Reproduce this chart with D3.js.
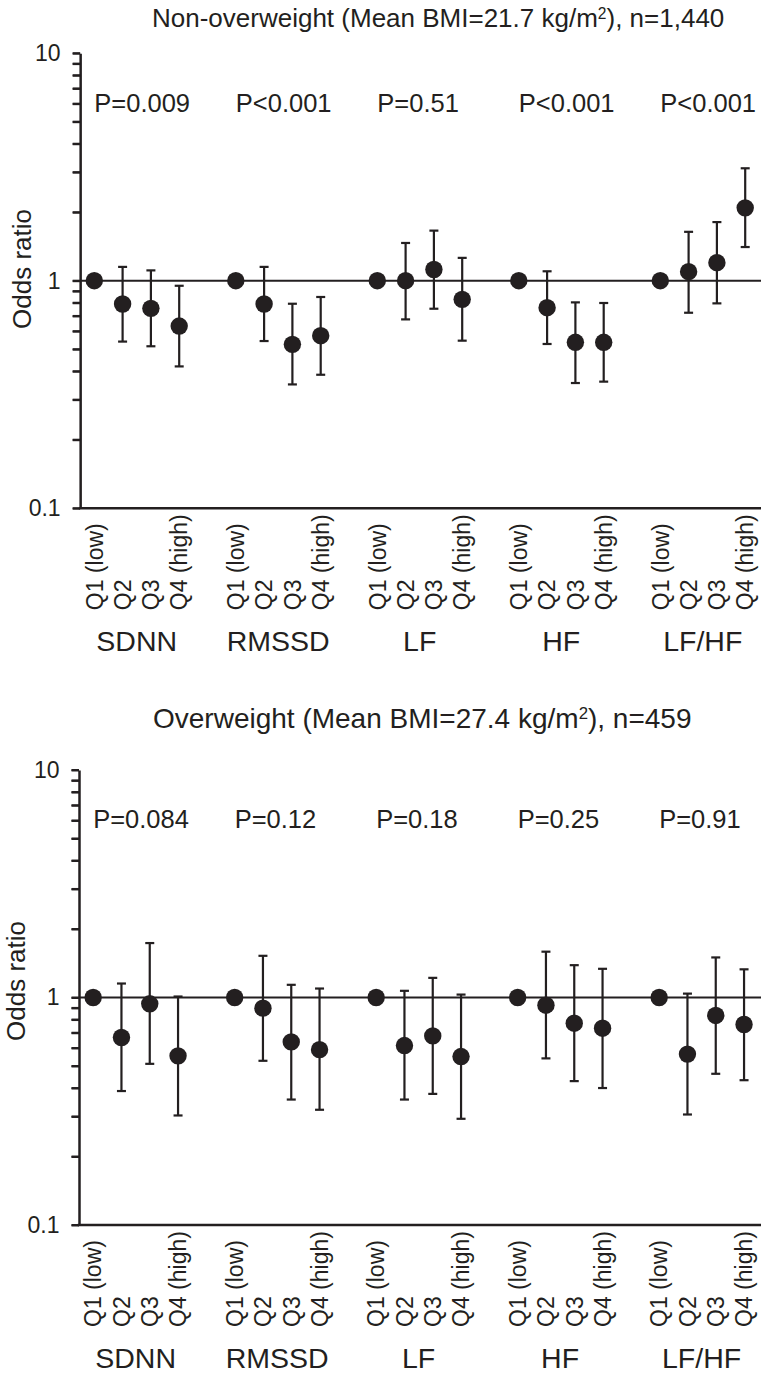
<!DOCTYPE html>
<html>
<head>
<meta charset="utf-8">
<script src="https://cdn.jsdelivr.net/npm/d3@7"></script>
<style>
  html, body { margin: 0; padding: 0; background: #fff; }
  svg { display: block; }
  text { font-family: "Liberation Sans", Arial, Helvetica, sans-serif; fill: #231f20; }
</style>
</head>
<body>
<svg id="chart" width="761" height="1373"></svg>
<script>
// ---------- data ----------
const groups = ["SDNN", "RMSSD", "LF", "HF", "LF/HF"];
const quartiles = ["Q1 (low)", "Q2", "Q3", "Q4 (high)"];
const yTickValues = [0.1, 1, 10];

const topTitle = "Non-overweight (Mean BMI=21.7 kg/m";
const topTitleEnd = "), n=1,440";
const topP = ["P=0.009", "P<0.001", "P=0.51", "P<0.001", "P<0.001"];
// per group: Q1..Q4
const topOR    = [[1, 0.79, 0.756, 0.632], [1, 0.79, 0.525, 0.573], [1, 1.0, 1.12, 0.828], [1, 0.761, 0.536, 0.536], [1, 1.096, 1.2, 2.09]];
const topLower = [[1, 0.54, 0.515, 0.42],  [1, 0.543, 0.35, 0.386], [1, 0.676, 0.753, 0.545], [1, 0.527, 0.355, 0.36], [1, 0.723, 0.795, 1.406]];
const topUpper = [[1, 1.15, 1.11, 0.95],   [1, 1.15, 0.792, 0.848], [1, 1.465, 1.66, 1.26], [1, 1.10, 0.803, 0.798], [1, 1.64, 1.81, 3.12]];

const botTitle = "Overweight (Mean BMI=27.4 kg/m";
const botTitleEnd = "), n=459";
const botP = ["P=0.084", "P=0.12", "P=0.18", "P=0.25", "P=0.91"];
const botOR    = [[1, 0.667, 0.938, 0.554], [1, 0.898, 0.638, 0.59], [1, 0.615, 0.678, 0.55], [1, 0.925, 0.771, 0.733], [1, 0.564, 0.834, 0.761]];
const botLower = [[1, 0.388, 0.511, 0.303], [1, 0.527, 0.356, 0.321], [1, 0.356, 0.377, 0.293], [1, 0.54, 0.429, 0.40], [1, 0.306, 0.462, 0.433]];
const botUpper = [[1, 1.152, 1.735, 1.01], [1, 1.525, 1.137, 1.095], [1, 1.07, 1.22, 1.03], [1, 1.59, 1.387, 1.337], [1, 1.04, 1.50, 1.33]];

// ---------- drawing ----------
const svg = d3.select("#chart");
const ink = "#231f20";
const FONT = "'Liberation Sans', Arial, Helvetica, sans-serif";

function panel(cfg) {
  const g = svg.append("g");
  const step = 28.3;
  const x = d3.scaleLinear().domain([-0.5, 24.5]).range([cfg.left, cfg.left + 25 * step]);
  const y = d3.scaleLog().domain([0.1, 10]).range([cfg.bottom, cfg.top]);
  const right = 761;

  // title
  const t = g.append("text")
    .attr("x", cfg.titleX).attr("y", cfg.titleY)
    .attr("text-anchor", "start")
    .style("font-size", cfg.titleSize + "px");
  t.append("tspan").text(cfg.title);
  t.append("tspan").attr("baseline-shift", "super").style("font-size", (cfg.titleSize * 0.6) + "px").text("2");
  t.append("tspan").text(cfg.titleEnd);

  // y axis with minor ticks
  const ticks = [];
  for (let dec of [0.1, 1]) for (let k = 1; k <= 9; k++) ticks.push(+(dec * k).toFixed(2));
  ticks.push(10);
  const axis = d3.axisLeft(y)
    .tickValues(ticks)
    .tickSize(7.5)
    .tickSizeOuter(0)
    .tickPadding(12)
    .tickFormat(d => yTickValues.includes(d) ? String(d) : "");
  const ag = g.append("g").attr("transform", `translate(${cfg.left},0)`).call(axis);
  ag.select(".domain").attr("stroke", ink).attr("stroke-width", 2.5);
  ag.selectAll(".tick line").attr("stroke", ink).attr("stroke-width", 2);
  ag.selectAll(".tick text").style("font-size", "23px").attr("fill", ink)
    .style("font-family", FONT);

  // explicit minor tick marks (same scale), to guarantee visibility
  g.append("g").selectAll("line").data(ticks).join("line")
    .attr("x1", cfg.left - 7.5).attr("x2", cfg.left)
    .attr("y1", d => y(d)).attr("y2", d => y(d))
    .attr("stroke", ink).attr("stroke-width", 2);

  // bottom axis line and reference line at OR=1
  g.append("line").attr("x1", cfg.left - 1.25).attr("x2", right)
    .attr("y1", y(0.1)).attr("y2", y(0.1)).attr("stroke", ink).attr("stroke-width", 2.5);
  g.append("line").attr("x1", cfg.left).attr("x2", right)
    .attr("y1", y(1)).attr("y2", y(1)).attr("stroke", ink).attr("stroke-width", 2);

  // y label
  g.append("text")
    .attr("transform", `translate(${cfg.ylabX},${cfg.ylabY}) rotate(-90)`)
    .attr("text-anchor", "middle")
    .style("font-size", "26px")
    .text("Odds ratio");

  // data points
  const pts = [];
  groups.forEach((grp, gi) => {
    quartiles.forEach((q, qi) => {
      pts.push({ slot: gi * 5 + qi, or: cfg.or[gi][qi], lo: cfg.lo[gi][qi], hi: cfg.hi[gi][qi], q, qi });
    });
  });

  const bars = pts.filter(d => d.qi > 0);
  const eb = g.append("g").attr("stroke", ink).attr("stroke-width", 2.2).attr("fill", "none");
  eb.selectAll("line.v").data(bars).join("line").attr("class", "v")
    .attr("x1", d => x(d.slot)).attr("x2", d => x(d.slot))
    .attr("y1", d => y(d.lo)).attr("y2", d => y(d.hi));
  eb.selectAll("line.lo").data(bars).join("line").attr("class", "lo")
    .attr("x1", d => x(d.slot) - 4.5).attr("x2", d => x(d.slot) + 4.5)
    .attr("y1", d => y(d.lo)).attr("y2", d => y(d.lo));
  eb.selectAll("line.hi").data(bars).join("line").attr("class", "hi")
    .attr("x1", d => x(d.slot) - 4.5).attr("x2", d => x(d.slot) + 4.5)
    .attr("y1", d => y(d.hi)).attr("y2", d => y(d.hi));

  g.append("g").selectAll("circle").data(pts).join("circle")
    .attr("cx", d => x(d.slot)).attr("cy", d => y(d.or)).attr("r", 8.7)
    .attr("fill", ink);

  // P values
  g.append("g").selectAll("text").data(cfg.p).join("text")
    .attr("x", (d, i) => x(i * 5))
    .attr("y", cfg.pY)
    .style("font-size", "25.5px")
    .text(d => d);

  // x tick labels (rotated, bottom-aligned)
  g.append("g").selectAll("text").data(pts).join("text")
    .attr("transform", d => `translate(${x(d.slot)},${y(0.1) + 102}) rotate(-90)`)
    .attr("text-anchor", "start")
    .attr("dy", "0.36em")
    .style("font-size", "23px")
    .text(d => d.q);

  // group labels
  g.append("g").selectAll("text").data(groups).join("text")
    .attr("x", (d, i) => x(i * 5 + 1.5))
    .attr("y", y(0.1) + cfg.grpDy)
    .attr("text-anchor", "middle")
    .style("font-size", "28.5px")
    .text(d => d);
}

panel({
  left: 80.15, top: 53.2, bottom: 508.2,
  title: topTitle, titleEnd: topTitleEnd, titleX: 152, titleY: 27, titleSize: 26,
  p: topP, pY: 111.5,
  or: topOR, lo: topLower, hi: topUpper,
  ylabX: 31, ylabY: 269, grpDy: 143
});

panel({
  left: 79, top: 770, bottom: 1225,
  title: botTitle, titleEnd: botTitleEnd, titleX: 153, titleY: 728, titleSize: 28,
  p: botP, pY: 828,
  or: botOR, lo: botLower, hi: botUpper,
  ylabX: 25, ylabY: 981, grpDy: 143
});
</script>
</body>
</html>
